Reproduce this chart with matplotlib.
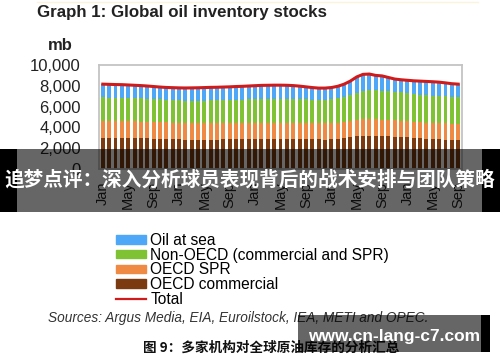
import numpy as np
import matplotlib
matplotlib.use("Agg")
import matplotlib.pyplot as plt
from matplotlib.patches import Patch, Rectangle
from matplotlib.lines import Line2D

# monthly data, Jan (year 1) .. Sep (year 5), million barrels
oecd_commercial = [3010, 3000, 2990, 3000, 2990, 2970, 2960, 2950, 2930, 2920, 2900, 2870,
                   2840, 2830, 2820, 2810, 2810, 2820, 2830, 2840, 2850, 2860, 2860, 2870,
                   2860, 2870, 2880, 2900, 2910, 2920, 2910, 2900, 2880, 2860, 2840, 2830,
                   2850, 2870, 2950, 3050, 3150, 3200, 3220, 3200, 3170, 3150, 3120, 3080,
                   3030, 3000, 2960, 2920, 2890, 2860, 2830, 2800, 2780]
oecd_spr = [1600, 1600, 1600, 1600, 1600, 1600, 1600, 1590, 1590, 1590, 1580, 1580,
            1580, 1580, 1570, 1570, 1570, 1560, 1560, 1560, 1560, 1560, 1560, 1560,
            1560, 1560, 1560, 1550, 1550, 1550, 1550, 1550, 1550, 1550, 1550, 1550,
            1550, 1550, 1550, 1550, 1560, 1570, 1570, 1570, 1570, 1570, 1560, 1560,
            1560, 1560, 1560, 1550, 1550, 1550, 1550, 1550, 1540]
non_oecd = [2280, 2270, 2260, 2250, 2240, 2230, 2220, 2200, 2190, 2180, 2180, 2170,
            2170, 2170, 2180, 2190, 2200, 2210, 2220, 2220, 2230, 2240, 2250, 2260,
            2270, 2280, 2290, 2290, 2300, 2300, 2290, 2280, 2270, 2270, 2280, 2300,
            2330, 2360, 2420, 2500, 2620, 2720, 2780, 2800, 2790, 2780, 2760, 2720,
            2690, 2660, 2640, 2630, 2620, 2610, 2600, 2590, 2580]
oil_at_sea = [1270, 1270, 1270, 1260, 1250, 1250, 1240, 1240, 1220, 1190, 1180, 1200,
              1210, 1210, 1230, 1240, 1250, 1260, 1250, 1260, 1260, 1270, 1280, 1290,
              1320, 1330, 1320, 1320, 1300, 1280, 1270, 1240, 1200, 1150, 1110, 1100,
              1100, 1170, 1230, 1350, 1520, 1610, 1560, 1430, 1420, 1300, 1210, 1220,
              1250, 1260, 1290, 1320, 1330, 1330, 1300, 1260, 1260]
month_labels = ["Jan", "May", "Sep"] * 5

W, H = 500, 362
fig = plt.figure(figsize=(W / 100, H / 100), dpi=100)
plt.rcParams["font.family"] = ["Liberation Sans", "DejaVu Sans"]

def fx(px):
    return px / W

def fy(py):
    return 1 - py / H

ax = fig.add_axes([fx(99), fy(169), fx(462) - fx(99), fy(65) - fy(169)])

x = np.arange(len(oecd_commercial))
c = np.array(oecd_commercial)
s = np.array(oecd_spr)
n = np.array(non_oecd)
a = np.array(oil_at_sea)
total = c + s + n + a

bw = 0.62
ax.bar(x, c, bw, color="#7b3a10", zorder=2)
ax.bar(x, s, bw, bottom=c, color="#ef8a45", zorder=2)
ax.bar(x, n, bw, bottom=c + s, color="#7fc234", zorder=2)
ax.bar(x, a, bw, bottom=c + s + n, color="#4ea8f7", zorder=2)
ax.plot(x, total, color="#d11a1a", lw=2.2, zorder=3)

ax.set_xlim(-0.6, len(x) - 0.4)
ax.set_ylim(0, 10000)
ax.set_yticks(range(0, 10001, 2000))
ax.set_yticklabels([f"{v:,}" for v in range(0, 10001, 2000)])
ax.set_xticks(x[::4])
ax.set_xticklabels(month_labels, rotation=90)
ax.tick_params(axis="both", length=0, labelsize=12, colors="#222222")
ax.tick_params(axis="y", pad=13)
ax.tick_params(axis="x", pad=9, labelsize=10.5)
for sp in ax.spines.values():
    sp.set_color("#c4c4c4")
    sp.set_linewidth(1.3)

# header
fig.add_artist(Line2D([fx(37), fx(478)], [fy(2), fy(2)], color="#fbf3dc", lw=1))
fig.text(fx(37), fy(12), "Graph 1: Global oil inventory stocks", fontsize=12.2,
         fontweight="bold", color="#222222", va="center", ha="left")
fig.text(fx(48), fy(46), "mb", fontsize=12, fontweight="bold", color="#222222",
         va="center", ha="left")

# legend
handles = [Patch(color="#4ea8f7"), Patch(color="#7fc234"), Patch(color="#ef8a45"),
           Patch(color="#7b3a10"), Line2D([], [], color="#d11a1a", lw=1.6)]
labels = ["Oil at sea", "Non-OECD (commercial and SPR)", "OECD SPR",
          "OECD commercial", "Total"]
fig.legend(handles, labels, loc="upper left", bbox_to_anchor=(fx(116), fy(233)),
           frameon=False, fontsize=11.2, handlelength=1.95, handleheight=0.45,
           handletextpad=0.25, labelspacing=-0.02, borderpad=0, borderaxespad=0)

fig.text(fx(48), fy(318), "Sources: Argus Media, EIA, Euroilstock, IEA, METI and OPEC.",
         fontsize=9.85, style="italic", color="#333333", va="center", ha="left")
fig.text(fx(143), fy(348), "图 9：多家机构对全球原油库存的分析汇总", fontsize=9.8,
         fontweight="bold", family=["Noto Sans CJK SC", "DejaVu Sans"],
         color="#111111", va="center", ha="left")

# overlay banner
fig.add_artist(Rectangle((fx(17), fy(212)), fx(482) - fx(17), fy(149) - fy(212),
                         transform=fig.transFigure, color="black", alpha=0.6, lw=0, zorder=10))
fig.add_artist(Rectangle((0, fy(212)), fx(17), fy(149) - fy(212),
                         transform=fig.transFigure, color="black", lw=0, zorder=10))
fig.add_artist(Rectangle((fx(482), fy(212)), 1 - fx(482), fy(149) - fy(212),
                         transform=fig.transFigure, color="black", lw=0, zorder=10))
fig.text(0.5, fy(180), "追梦点评：深入分析球员表现背后的战术安排与团队策略",
         fontsize=14.1, fontweight="bold", family=["Noto Sans CJK SC", "DejaVu Sans"],
         color="white", ha="center", va="center", zorder=11)

# url box
fig.add_artist(Rectangle((fx(298), fy(352)), fx(481) - fx(298), fy(315) - fy(352),
                         transform=fig.transFigure, color="black", alpha=0.6, lw=0, zorder=10))
fig.add_artist(Rectangle((fx(481), fy(352)), fx(490) - fx(481), fy(315) - fy(352),
                         transform=fig.transFigure, color="black", lw=0, zorder=10))
fig.text(fx(308), fy(336), "www.cn-lang-c7.com", fontsize=12.5, fontweight="bold",
         color="white", ha="left", va="center", zorder=11)

fig.savefig("out.png", dpi=100)
